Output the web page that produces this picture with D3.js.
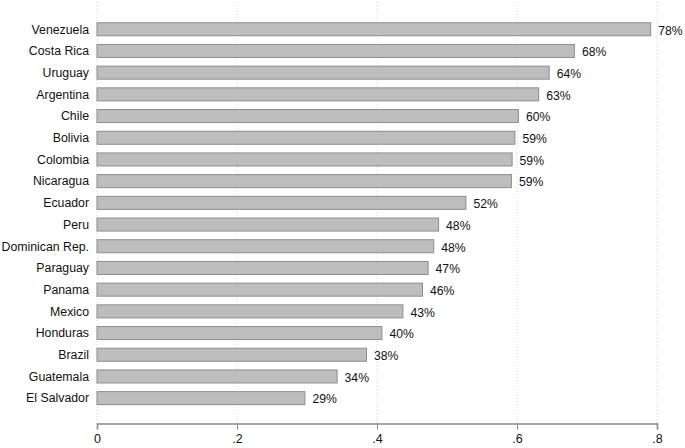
<!DOCTYPE html>
<html>
<head>
<meta charset="utf-8">
<script src="https://cdn.jsdelivr.net/npm/d3@7"></script>
<style>
  html, body { margin: 0; padding: 0; background: #fff; }
  svg { display: block; font-family: "Liberation Sans", Arial, Helvetica, sans-serif; }
</style>
</head>
<body>
<svg id="chart" width="685" height="448"></svg>
<script>
const countries = ["Venezuela","Costa Rica","Uruguay","Argentina","Chile","Bolivia","Colombia","Nicaragua","Ecuador","Peru","Dominican Rep.","Paraguay","Panama","Mexico","Honduras","Brazil","Guatemala","El Salvador"];
const values = [0.791,0.682,0.646,0.631,0.602,0.597,0.593,0.592,0.527,0.488,0.481,0.473,0.465,0.437,0.407,0.385,0.343,0.297];
const valueLabels = ["78%","68%","64%","63%","60%","59%","59%","59%","52%","48%","48%","47%","46%","43%","40%","38%","34%","29%"];
const xTicks = [0, 0.2, 0.4, 0.6, 0.8];
const xTickLabels = ["0", ".2", ".4", ".6", ".8"];

const svg = d3.select("#chart");
const x = d3.scaleLinear().domain([0, 0.8]).range([97, 657]);
const y = d3.scaleBand().domain(countries).range([18.4, 409]).paddingInner(0.4).paddingOuter(0.2);

// gridlines
svg.append("g").selectAll("line").data(xTicks).join("line")
  .attr("x1", d => x(d)).attr("x2", d => x(d))
  .attr("y1", 2).attr("y2", 423)
  .attr("stroke", "#d6d6d6").attr("stroke-width", 1)
  .attr("stroke-dasharray", "1,2");

// bars
svg.append("g").selectAll("rect").data(countries).join("rect")
  .attr("x", x(0))
  .attr("y", d => y(d))
  .attr("width", (d, i) => x(values[i]) - x(0))
  .attr("height", y.bandwidth())
  .attr("fill", "#bdbdbd")
  .attr("stroke", "#8d8d8d")
  .attr("stroke-width", 1);

// value labels
svg.append("g").selectAll("text").data(countries).join("text")
  .attr("x", (d, i) => x(values[i]) + 7.5)
  .attr("y", d => y(d) + y.bandwidth() / 2 + 1)
  .attr("dy", "0.35em")
  .attr("font-size", 12.2)
  .attr("fill", "#111")
  .text((d, i) => valueLabels[i]);

// category labels
svg.append("g").selectAll("text").data(countries).join("text")
  .attr("x", 89)
  .attr("y", d => y(d) + y.bandwidth() / 2)
  .attr("dy", "0.35em")
  .attr("text-anchor", "end")
  .attr("font-size", 12.3)
  .attr("fill", "#111")
  .text(d => d);

// x axis
const axis = d3.axisBottom(x).tickValues(xTicks)
  .tickFormat((d, i) => xTickLabels[i]).tickSize(6).tickPadding(5);
const gx = svg.append("g").attr("transform", "translate(0,423.5)").call(axis);
gx.select(".domain").attr("stroke", "#8a8a8a").attr("stroke-width", 1.6);
gx.selectAll(".tick line").attr("stroke", "#8a8a8a").attr("stroke-width", 1);
gx.selectAll(".tick text").attr("font-size", 12.5).attr("fill", "#111")
  .attr("font-family", "Liberation Sans, Arial, sans-serif");
</script>
</body>
</html>
